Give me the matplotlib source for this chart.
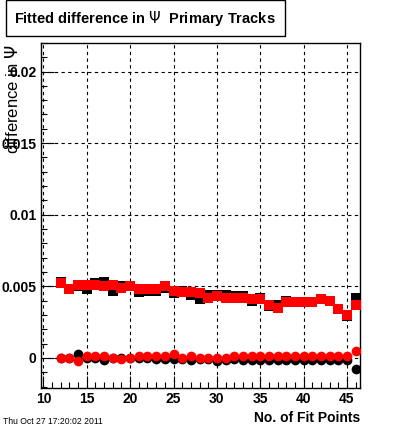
import numpy as np
from matplotlib import pyplot as plt
from matplotlib.ticker import MultipleLocator

plt.rcParams['font.family'] = ['Liberation Sans', 'DejaVu Sans']

# fit points 12..46
npoints = list(range(12, 47))

# mean difference (squares)
black_sq = [0.0053, 0.0048, 0.0050, 0.0048, 0.0052, 0.0053, 0.0047, 0.0050, 0.0050, 0.0046,
            0.0047, 0.0047, 0.0049, 0.0045, 0.0047, 0.0044, 0.0041, 0.0044, 0.0044, 0.0044,
            0.0043, 0.0043, 0.0040, 0.0042, 0.0036, 0.0037, 0.0040, 0.0039, 0.0039, 0.0039,
            0.0041, 0.0040, 0.0034, 0.0029, 0.0042]
red_sq = [0.0052, 0.0048, 0.0051, 0.0051, 0.0051, 0.0050, 0.0051, 0.0049, 0.0050, 0.0048,
          0.0048, 0.0048, 0.0050, 0.0047, 0.0046, 0.0046, 0.0045, 0.0042, 0.0043, 0.0042,
          0.0042, 0.0042, 0.0041, 0.0041, 0.0037, 0.0035, 0.0039, 0.0039, 0.0039, 0.0039,
          0.0041, 0.0040, 0.0034, 0.0030, 0.0037]

# sigma-like points (circles)
black_ci = [0.0000, 0.0000, 0.00026, 0.0000, 0.0000, -0.00014, 0.0000, 0.0000, 0.0000, 0.0000,
            0.0000, -0.0001, -0.0001, -0.00005, -0.0001, -0.00015, -0.0001, -0.0001, -0.0002, -0.00015,
            -0.0001, -0.00015, -0.00012, -0.00014, -0.00014, -0.00014, -0.00014, -0.00014, -0.00014, -0.00014,
            -0.00014, -0.00014, -0.00014, -0.00014, -0.00077]
red_ci = [0.0000, 0.00002, -0.0002, 0.00014, 0.0001, 0.0001, 0.00002, -0.00007, 0.00002, 0.00016,
          0.0001, 0.00012, 0.0001, 0.00025, 0.00002, 0.00016, 0.00002, 0.00002, 0.00002, 0.00002,
          0.00016, 0.0001, 0.00013, 0.00013, 0.00013, 0.00013, 0.00013, 0.00013, 0.00013, 0.00013,
          0.00013, 0.00013, 0.00013, 0.00013, 0.0005]

fig = plt.figure(figsize=(4.0, 4.33), dpi=100)
ax = fig.add_axes([0.102, 0.104, 0.798, 0.797])

ax.plot(npoints, black_sq, 's', color='black', ms=6.5, mew=0, zorder=3)
ax.plot(npoints, black_ci, 'o', color='black', ms=7, mew=0, zorder=3)
ax.plot(npoints, red_sq, 's', color='red', ms=6.5, mew=0, zorder=4)
ax.plot(npoints, red_ci, 'o', color='red', ms=7, mew=0, zorder=4)

ax.set_xlim(9.7, 46.5)
ax.set_ylim(-0.0021, 0.0220)
ax.xaxis.set_major_locator(MultipleLocator(5))
ax.xaxis.set_minor_locator(MultipleLocator(1))
ax.yaxis.set_major_locator(MultipleLocator(0.005))
ax.yaxis.set_minor_locator(MultipleLocator(0.001))
ax.set_yticks([0, 0.005, 0.01, 0.015, 0.02])
ax.set_yticklabels(['0', '0.005', '0.01', '0.015', '0.02'])
ax.tick_params(which='both', direction='in', top=False, right=False, color='black')
ax.tick_params(which='major', length=9, width=0.8, labelsize=10, pad=3)
ax.tick_params(which='minor', length=4.5, width=0.8)
for lbl in ax.get_xticklabels() + ax.get_yticklabels():
    lbl.set_fontweight('bold')
ax.grid(True, which='major', linestyle=(0, (3, 3)), color='black', linewidth=0.8)
for s in ax.spines.values():
    s.set_linewidth(1.0)

fig.text(0.9, 0.018, 'No. of Fit Points', ha='right', va='bottom', fontsize=10, fontweight='bold')
fig.text(0.032, 0.898, 'difference in $\\Psi$', rotation=90, ha='center', va='top', fontsize=12)
fig.text(0.008, 0.016, 'Thu Oct 27 17:20:02 2011', ha='left', va='bottom', fontsize=6.2)

fig.text(0.036, 0.958, 'Fitted difference in $\\Psi$  Primary Tracks', ha='left', va='center',
         fontsize=10.5, fontweight='bold',
         bbox=dict(boxstyle='square,pad=0.6', facecolor='white', edgecolor='black', linewidth=1.0))

fig.savefig('out.png', dpi=100)
